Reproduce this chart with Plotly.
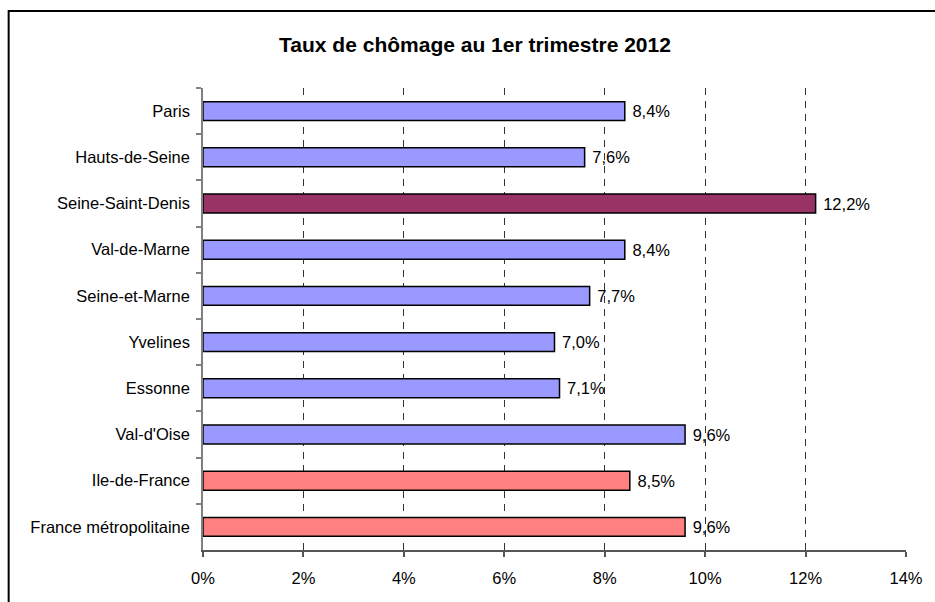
import plotly.graph_objects as go

# Unemployment rate by département, Q1 2012 (percent)
departements = [
    "Paris", "Hauts-de-Seine", "Seine-Saint-Denis", "Val-de-Marne",
    "Seine-et-Marne", "Yvelines", "Essonne", "Val-d'Oise",
    "Ile-de-France", "France métropolitaine",
]
taux = [8.4, 7.6, 12.2, 8.4, 7.7, 7.0, 7.1, 9.6, 8.5, 9.6]
couleurs = [
    "#9999FF", "#9999FF", "#993366", "#9999FF", "#9999FF",
    "#9999FF", "#9999FF", "#9999FF", "#FF8080", "#FF8080",
]
x_ticks = [0, 2, 4, 6, 8, 10, 12, 14]

FONT = "Liberation Sans, Arial, sans-serif"

# plot area in pixels
L, R, T, B = 203, 912, 88, 550
W, H = 935, 602

fig = go.Figure(
    go.Bar(
        x=taux,
        y=departements,
        orientation="h",
        width=0.41,
        marker=dict(color=couleurs, line=dict(color="#000000", width=1.5)),
        texttemplate=" %{x:.1f}%",
        textposition="outside",
        cliponaxis=False,
        textfont=dict(family=FONT, size=16.5, color="#000000"),
        hoverinfo="skip",
    )
)

fig.update_layout(
    width=W,
    height=H,
    margin=dict(l=L, r=W - R, t=T, b=H - B),
    paper_bgcolor="#FFFFFF",
    plot_bgcolor="#FFFFFF",
    separators=", ",
    showlegend=False,
    font=dict(family=FONT, size=16.5, color="#000000"),
    title=dict(
        text="<b>Taux de chômage au 1er trimestre 2012</b>",
        x=0.508,
        xanchor="center",
        y=1 - 45 / H,
        yanchor="middle",
        yref="container",
        font=dict(family=FONT, size=21, color="#000000"),
    ),
    xaxis=dict(
        range=[0, 14],
        tickvals=x_ticks,
        ticktext=[f"{v}%" for v in x_ticks],
        showgrid=True,
        gridcolor="#333333",
        gridwidth=1,
        griddash="7px,6px",
        zeroline=False,
        showline=True,
        linecolor="#555555",
        linewidth=1.5,
        ticks="outside",
        ticklen=5,
        tickcolor="#555555",
        tickwidth=1.5,
        ticklabelstandoff=7,
        tickfont=dict(family=FONT, size=16.5, color="#000000"),
        fixedrange=True,
    ),
    yaxis=dict(
        autorange="reversed",
        showgrid=False,
        zeroline=False,
        showline=True,
        linecolor="#808080",
        linewidth=1.5,
        ticks="outside",
        tickson="boundaries",
        ticklen=5,
        tickcolor="#808080",
        tickwidth=1.5,
        ticklabelstandoff=8,
        tickfont=dict(family=FONT, size=16.5, color="#000000"),
        fixedrange=True,
    ),
    shapes=[
        dict(
            type="rect",
            xref="paper",
            yref="paper",
            x0=(7 - L) / (R - L),
            x1=(945 - L) / (R - L),
            y0=(B - 612) / (B - T),
            y1=(B - 11) / (B - T),
            line=dict(color="#000000", width=2),
            fillcolor="rgba(0,0,0,0)",
            layer="above",
        )
    ],
)

fig.write_html("out.html")
